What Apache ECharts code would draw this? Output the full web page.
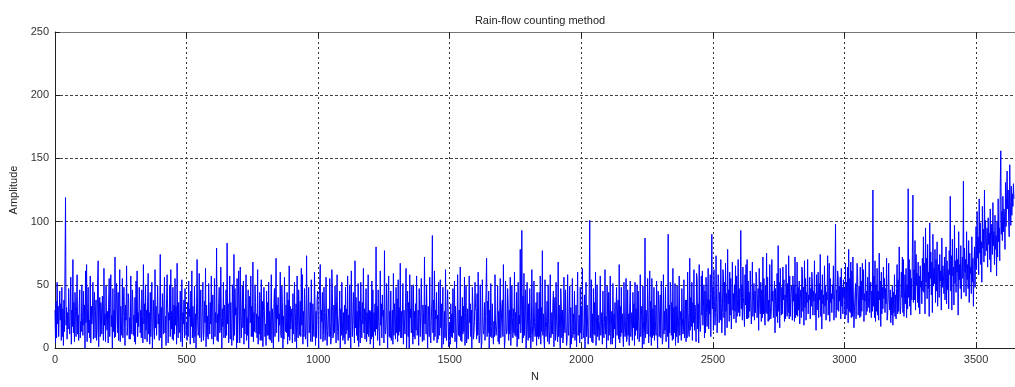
<!DOCTYPE html>
<html>
<head>
<meta charset="utf-8">
<script src="https://cdn.jsdelivr.net/npm/echarts@6/dist/echarts.min.js"></script>
<style>
  html, body { margin: 0; padding: 0; background: #fff; }
  #chart { width: 1015px; height: 387px; }
</style>
</head>
<body>
<div id="chart"></div>
<script>
// one value read every 2 samples, one row per 100 samples of N
let step = 2
let rowSpan = 100
let xTicks = [0, 500, 1000, 1500, 2000, 2500, 3000, 3500]
let yTicks = [0, 50, 100, 150, 200, 250]

let ampRows = [
    [30,4,37,8,52,19,33,9,27,45, 22,35,6,48,9,31,2,38,13,64, 119,18,32,7,28,15,47,21,11,34, 56,3,30,17,70,12,36,5,44,29, 9,33,58,11,26,6,35,46,8,21],
    [13,50,24,10,45,18,34,0,61,20, 66,5,31,48,12,22,8,57,4,33, 19,26,52,7,35,44,8,29,38,6, 14,53,69,1,25,40,9,36,30,11, 41,24,6,63,18,27,5,49,21,14],
    [29,4,38,55,9,32,58,17,26,0, 47,13,30,8,72,9,27,51,36,12, 44,6,31,62,5,33,20,10,55,8, 37,48,25,2,34,22,65,10,16,43, 39,7,24,7,57,20,11,46,36,10],
    [26,5,40,3,53,20,61,9,28,17, 48,35,12,30,8,46,25,4,66,19, 35,7,50,14,30,5,37,59,11,28, 3,44,9,26,52,0,13,38,20,7, 62,16,33,10,10,49,19,27,6,31],
    [74,8,32,0,43,27,11,35,56,12, 25,2,39,58,31,4,28,22,50,9, 62,15,29,7,48,6,34,11,55,18, 33,3,67,20,8,36,12,16,45,5, 21,54,1,28,19,38,8,47,31,10],
    [20,6,36,9,53,25,31,3,45,17, 61,8,33,22,4,49,9,27,0,35, 70,21,10,13,59,8,30,46,5,11, 32,52,6,12,37,20,63,1,34,9, 25,7,51,23,11,36,19,57,7,33],
    [42,3,16,55,9,28,20,79,6,27, 5,35,48,12,14,64,24,0,31,17, 52,8,34,21,8,46,10,83,19,35, 4,30,57,7,36,11,2,50,32,6, 74,10,47,26,32,0,55,4,29,61],
    [37,4,64,22,8,7,49,16,53,3, 31,11,35,58,6,24,10,46,0,29, 41,20,57,9,33,9,68,5,28,13, 50,36,12,27,8,62,3,25,11,44, 6,30,54,6,37,1,29,48,26,9],
    [19,2,45,10,36,10,52,7,29,6, 27,58,4,31,20,0,35,47,9,30, 71,12,34,23,40,5,27,18,60,11, 8,49,36,0,25,7,56,22,13,34, 12,44,3,38,9,65,6,33,15,24],
    [31,4,43,11,26,52,5,22,35,0, 57,16,8,46,27,10,37,9,63,18, 58,3,29,9,47,25,7,16,73,10, 1,32,48,12,19,36,5,54,22,5, 35,20,9,60,33,2,29,8,38,45],
    [24,0,38,54,66,7,30,21,44,5, 10,48,28,6,11,56,19,2,14,31, 27,9,55,20,3,9,62,47,8,11, 34,12,49,30,4,37,58,13,6,19, 26,45,0,31,10,52,21,6,28,8],
    [34,3,48,11,31,14,57,6,26,8, 50,16,0,61,27,9,9,44,18,4, 69,16,40,10,29,6,51,1,37,20, 4,52,23,8,36,19,63,12,31,7, 25,47,5,28,11,58,9,16,30,3],
    [29,7,53,9,46,0,28,13,35,10, 80,15,33,6,46,21,12,2,61,18, 35,8,42,25,30,4,77,14,11,19, 51,20,0,34,57,9,29,8,45,6, 14,30,3,59,10,35,23,7,48,12],
    [39,5,54,10,32,13,67,8,29,8, 26,51,3,30,19,11,36,63,0,28, 45,9,36,0,58,24,31,12,49,16, 3,50,9,29,7,35,14,57,10,12, 30,2,47,24,9,31,55,26,5,34],
    [28,6,72,19,34,11,50,21,0,33, 25,9,56,10,4,22,38,89,12,38, 6,61,9,30,23,44,4,26,7,52, 12,10,54,16,35,0,27,48,3,14, 29,8,62,11,6,32,46,28,1,8],
    [20,3,35,9,27,8,47,12,31,53, 5,33,17,0,12,58,22,10,30,9, 64,6,25,5,40,11,33,13,56,2, 28,49,4,10,31,7,14,57,20,35, 9,30,0,48,33,7,12,21,52,32],
    [29,7,43,10,60,15,4,10,50,18, 0,4,54,20,11,14,36,6,25,45, 71,9,37,12,45,0,30,9,51,17, 8,35,13,3,21,9,58,18,10,15, 23,49,5,29,3,32,55,8,8,33],
    [38,9,66,21,0,6,53,19,11,13, 47,34,6,30,11,56,2,15,49,24, 8,31,12,60,10,28,9,44,1,16, 52,7,26,19,78,12,29,93,4,41, 8,59,10,29,46,0,11,52,18,6],
    [35,8,47,24,0,10,62,18,5,15, 53,20,9,12,36,2,44,9,31,7, 44,9,57,3,32,13,77,10,27,7, 0,54,16,9,21,37,5,50,18,3, 14,58,8,10,28,11,36,45,1,31],
    [40,6,52,22,10,5,68,9,34,11, 0,47,33,8,30,4,9,56,18,12, 46,20,2,7,58,14,10,9,49,0, 32,3,13,55,8,27,11,45,6,16, 34,1,29,60,10,15,26,4,48,12],
    [33,7,63,19,10,8,42,0,30,52, 9,34,17,3,11,47,101,8,15,54, 5,27,4,47,11,36,10,60,2,25, 50,9,26,13,6,22,57,10,18,28, 3,45,14,8,20,62,11,25,0,49],
    [26,6,44,10,31,57,3,18,29,3, 51,8,27,15,36,0,30,48,10,32, 38,7,66,4,33,9,48,12,27,11, 1,52,19,9,12,55,5,8,46,10, 27,2,36,53,9,10,28,6,44,16],
    [35,2,52,10,31,14,50,7,45,21, 5,12,58,9,26,33,0,49,22,3, 15,87,8,30,24,11,55,27,4,32, 61,9,37,2,55,8,31,10,48,6, 34,16,10,53,12,0,45,33,9,30],
    [42,8,53,23,3,8,58,11,29,14, 48,5,31,19,9,90,0,34,12,52, 47,10,36,6,63,7,32,12,51,2, 33,9,49,15,4,26,57,10,22,29, 6,47,24,11,13,54,8,20,38,5],
    [38,8,60,28,12,9,71,14,40,17, 52,6,36,20,62,14,34,29,5,59, 55,15,35,4,66,22,13,19,57,26, 61,18,33,50,8,45,12,56,28,17, 40,63,15,38,27,58,9,43,90,31],
    [48,14,62,33,18,28,73,36,12,27, 58,51,20,44,22,70,35,12,28,62, 58,24,52,10,67,29,43,16,78,35, 46,21,60,26,55,15,31,68,30,43, 23,50,29,65,20,57,25,39,70,28],
    [47,25,39,93,31,50,22,64,40,30, 17,58,34,66,23,70,23,53,24,44, 29,61,36,19,30,68,25,37,51,22, 45,28,60,56,24,38,47,14,63,35, 27,52,21,46,24,72,27,55,30,18],
    [49,28,75,27,56,21,38,22,66,35, 23,29,70,37,45,24,39,53,12,47, 47,25,59,20,81,29,52,16,63,40, 26,48,27,64,38,54,21,42,23,66, 39,25,51,28,73,23,57,25,40,49],
    [45,22,57,37,50,21,72,24,43,26, 68,25,48,30,53,19,39,46,24,64, 62,29,48,18,69,32,55,22,44,36, 70,27,42,38,56,23,47,33,60,52, 26,45,37,69,26,43,14,58,30,41],
    [60,24,51,38,74,25,46,15,58,35, 42,27,65,33,49,22,44,38,73,26, 40,67,21,55,36,43,28,50,39,65, 22,37,52,98,24,46,30,61,56,29, 49,37,56,23,63,33,48,27,54,40],
    [47,23,67,26,52,31,64,20,78,29, 55,28,68,24,61,25,72,38,16,30, 42,51,23,45,67,58,26,40,49,24, 64,25,53,29,67,38,62,21,43,37, 70,26,45,29,56,32,41,68,28,46],
    [52,24,45,29,125,33,57,24,69,21, 50,29,63,26,45,22,75,38,53,17, 60,27,48,31,64,39,55,28,47,35, 71,22,26,43,67,38,30,46,20,40, 26,49,18,44,28,58,25,42,23,47],
    [66,27,54,29,80,43,27,33,60,40, 72,28,70,25,39,58,35,63,24,50, 31,126,40,70,33,62,26,55,38,74, 121,36,62,38,85,30,74,50,59,36, 68,32,57,27,65,48,53,35,71,45],
    [88,44,67,27,95,52,71,39,82,47, 60,25,99,55,76,42,68,28,90,49, 63,51,78,36,70,45,84,33,58,66, 40,74,53,61,30,87,48,65,57,43, 72,38,56,80,35,69,46,62,31,77],
    [58,120,45,73,30,86,57,64,34,97, 51,69,44,79,60,70,26,92,54,66, 47,81,39,63,72,55,132,44,79,60, 70,41,92,54,66,47,85,36,75,59, 64,43,88,52,71,33,62,80,48,68],
    [96,62,108,71,88,58,118,75,99,66, 84,52,112,79,94,68,125,73,101,86, 77,95,64,103,82,91,70,110,60,87, 98,74,115,81,92,66,105,78,89,57, 100,72,118,84,95,69,128,156,90,108],
    [85,120,92,110,104,78,131,96,118,140, 110,125,100,88,145,115,97,128,105,122, 112,130,118]
]

let points = []
ampRows.forEach((row, r) => {
    row.forEach((v, j) => points.push([r * rowSpan + j * step, v]))
})

let font = 'Liberation Sans, Arial, Helvetica, sans-serif'
let chart = echarts.init(document.getElementById('chart'))

let option = {
    animation: false,
    backgroundColor: '#ffffff',
    title: {
        text: 'Rain-flow counting method',
        left: 535,
        textAlign: 'center',
        top: 10,
        textStyle: { fontFamily: font, fontSize: 11, fontWeight: 'normal', color: '#222' }
    },
    grid: { left: 55, top: 32, width: 960, height: 320 },
    xAxis: [
        {
            type: 'value',
            min: 0,
            max: 3648,
            interval: 500,
            name: 'N',
            nameLocation: 'middle',
            nameGap: 23,
            nameTextStyle: { fontFamily: font, fontSize: 11, color: '#222' },
            axisLine: { lineStyle: { color: '#222', width: 1 } },
            axisTick: { inside: true, length: 5, lineStyle: { color: '#222' } },
            axisLabel: {
                fontFamily: font, fontSize: 11, color: '#333', margin: 6,
                showMaxLabel: false,
                formatter: v => xTicks.indexOf(v) >= 0 ? String(v) : ''
            },
            splitLine: { show: true, lineStyle: { color: '#333', type: [2, 3], width: 1 } }
        },
        {
            type: 'value',
            position: 'top',
            min: 0,
            max: 3648,
            interval: 500,
            axisLine: { show: true, lineStyle: { color: '#777', width: 1 } },
            axisTick: { inside: true, length: 5, lineStyle: { color: '#222' } },
            axisLabel: { show: false },
            splitLine: { show: false }
        }
    ],
    yAxis: {
        type: 'value',
        min: 0,
        max: 250,
        interval: 50,
        name: 'Amplitude',
        nameLocation: 'middle',
        nameGap: 33,
        nameTextStyle: { fontFamily: font, fontSize: 11, color: '#222' },
        axisLine: { show: true, lineStyle: { color: '#222', width: 1 } },
        axisTick: { show: true, inside: true, length: 5, lineStyle: { color: '#222' } },
        axisLabel: {
            fontFamily: font, fontSize: 11, color: '#333', margin: 6,
            formatter: v => yTicks.indexOf(v) >= 0 ? String(v) : ''
        },
        splitLine: { show: true, lineStyle: { color: '#444', type: [3, 2], width: 1 } }
    },
    series: [
        {
            type: 'line',
            data: points,
            showSymbol: false,
            symbol: 'none',
            sampling: null,
            clip: true,
            lineStyle: { color: '#0000ff', width: 1 },
            itemStyle: { color: '#0000ff' },
            emphasis: { disabled: true }
        }
    ]
}

chart.setOption(option)
</script>
</body>
</html>
